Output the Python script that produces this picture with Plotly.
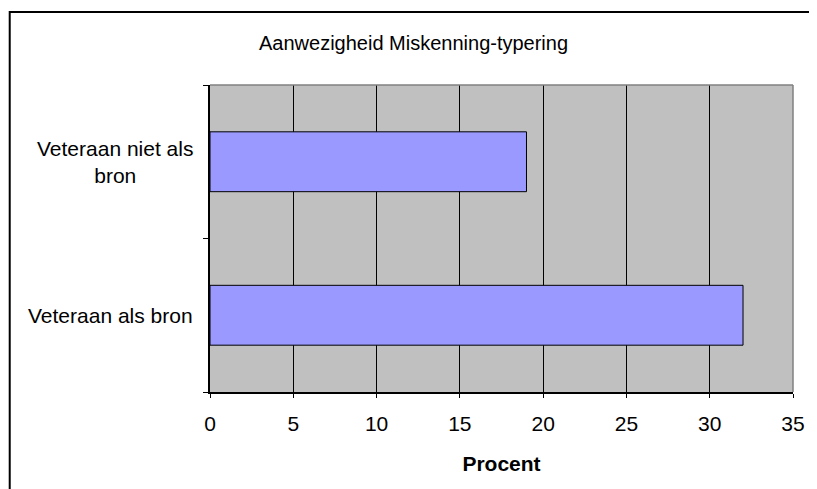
import plotly.graph_objects as go

categories = ["Veteraan als bron", "Veteraan niet als bron"]
label_text = ["Veteraan als bron", "Veteraan niet als<br>bron"]
values = [32, 19]
x_ticks = [0, 5, 10, 15, 20, 25, 30, 35]

OFF = 8  # page body margin
W, H = 817 - OFF, 489 - OFF
L, R, T, B = 210 - OFF, 798 - OFF, 85 - OFF, 392 - OFF
pw, ph = R - L, B - T

def px(x):
    return (x - OFF - L) / pw

def py(y):
    return (B - (y - OFF)) / ph

FONT = "Liberation Sans, Arial, sans-serif"

fig = go.Figure(go.Bar(
    y=categories, x=values, orientation="h",
    marker=dict(color="#9999FF", line=dict(color="black", width=1)),
    width=0.39,
))

shapes = [
    dict(type="rect", xref="paper", yref="paper",
         x0=px(8), x1=px(860), y0=py(540), y1=py(12),
         line=dict(color="black", width=2), fillcolor="rgba(0,0,0,0)"),
    dict(type="line", xref="paper", yref="paper", x0=0, x1=1, y0=1, y1=1,
         line=dict(color="#808080", width=1.5)),
    dict(type="line", xref="paper", yref="paper", x0=1, x1=1, y0=0, y1=1,
         line=dict(color="#808080", width=1.5)),
]

annotations = [
    dict(text="Aanwezigheid Miskenning-typering", xref="paper", yref="paper",
         x=px(415), y=py(43), xanchor="center", yanchor="middle",
         showarrow=False, font=dict(family=FONT, size=20, color="black")),
]
for cat, lab in zip(categories, label_text):
    annotations.append(dict(text=lab, xref="paper", yref="y", x=px(195), y=cat,
                            xanchor="right", yanchor="middle", align="center",
                            showarrow=False,
                            font=dict(family=FONT, size=21, color="black")))

fig.update_layout(
    width=W, height=H,
    margin=dict(l=L, r=W - R, t=T, b=H - B),
    paper_bgcolor="white", plot_bgcolor="#C0C0C0",
    showlegend=False,
    font=dict(family=FONT, size=21, color="black"),
    shapes=shapes, annotations=annotations,
    xaxis=dict(range=[0, 35], tickvals=x_ticks, ticks="outside", ticklen=4,
               tickcolor="black", showline=True, linecolor="black", linewidth=1.5,
               showgrid=True, gridcolor="black", gridwidth=1, zeroline=False,
               tickfont=dict(family=FONT, size=21), ticklabelstandoff=8,
               title=dict(text="<b>Procent</b>", font=dict(family=FONT, size=21), standoff=22)),
    yaxis=dict(type="category", categoryorder="array", categoryarray=categories,
               range=[-0.5, 1.5], tickson="boundaries", ticks="outside", ticklen=5,
               tickcolor="black", showline=True, linecolor="black", linewidth=1.5,
               showgrid=False, showticklabels=False, zeroline=False),
)

fig.write_html("out.html")
